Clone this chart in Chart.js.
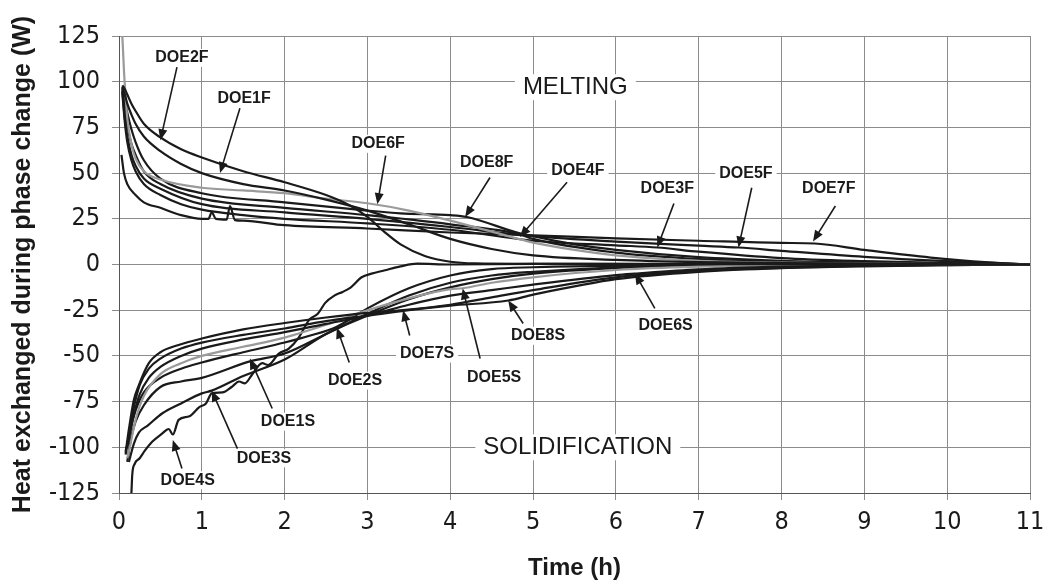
<!DOCTYPE html>
<html>
<head>
<meta charset="utf-8">
<script src="https://cdn.jsdelivr.net/npm/chart.js@4.4.1/dist/chart.umd.min.js"></script>
<style>
  html, body { margin: 0; padding: 0; background: #fff; }
  #wrap { width: 1046px; height: 586px; }
</style>
</head>
<body>
<div id="wrap"><canvas id="Canvas1" width="1046" height="586"></canvas></div>
<script>
// Melting curves (W vs h)
var tDOE2F = [0.04, 0.07, 0.1, 0.15, 0.2, 0.3, 0.5, 0.75, 1, 1.5, 2, 2.5, 2.8, 3, 3.2, 3.4, 3.7, 4, 4.3, 5, 6, 8, 11];
var qDOE2F = [98, 96, 93, 88, 84, 77, 69.5, 63, 58.5, 51, 45, 38, 32, 26, 18, 11, 4.5, 1.5, 0.6, 0.4, 0.3, 0.2, 0];
var tDOE1F = [0.04, 0.07, 0.1, 0.15, 0.2, 0.3, 0.5, 0.75, 1, 1.5, 2, 2.5, 3, 3.5, 4, 4.5, 5, 6, 7, 8, 9, 11];
var qDOE1F = [97, 93, 88, 82, 77, 70, 62, 55, 50, 44, 40.5, 35.5, 29.5, 22, 14, 8.5, 5, 2.5, 1.3, 0.8, 0.5, 0];
var tDOE6F = [0.04, 0.05, 0.06, 0.08, 0.1, 0.15, 0.2, 0.3, 0.5, 1, 1.5, 2, 2.5, 3, 3.5, 4, 4.5, 5, 5.5, 6, 7, 8, 9, 11];
var qDOE6F = [125, 116, 106, 92, 80, 66, 58, 51, 46.5, 42, 40.5, 39, 36, 33.5, 29.5, 24, 18, 12, 8, 5, 2, 1, 0.5, 0];
var tDOE8F = [0.04, 0.07, 0.1, 0.15, 0.2, 0.3, 0.5, 1, 2, 3, 3.4, 4, 4.2, 4.84, 5, 5.5, 6, 7, 8, 9, 11];
var qDOE8F = [97, 90, 83, 74, 67, 57, 47, 39, 34, 29.5, 28, 27, 26, 17, 15.5, 11, 8, 4, 2, 1, 0];
var tDOE4F = [0.04, 0.07, 0.1, 0.15, 0.2, 0.3, 0.5, 1, 2, 3, 4, 4.84, 5, 6, 7, 8, 9, 11];
var qDOE4F = [96, 86, 76, 66, 60, 51, 44, 36, 31, 27, 22, 16.5, 14, 6.5, 3, 1.5, 0.8, 0];
var tDOE5F = [0.04, 0.07, 0.1, 0.15, 0.2, 0.3, 0.5, 1, 2, 3, 4, 5, 6, 7, 7.48, 8, 9, 10, 11];
var qDOE5F = [95, 80, 70, 60, 54, 47, 41.5, 33, 28.5, 25, 20.5, 15.5, 12.5, 10.3, 9.3, 7.5, 4.2, 1.8, 0];
var tDOE3F = [0.04, 0.07, 0.1, 0.15, 0.2, 0.3, 0.5, 0.75, 1, 1.5, 2, 3, 4, 5, 6, 6.5, 7, 8, 9, 10, 11];
var qDOE3F = [94, 78, 67, 57, 51, 44, 38, 33, 30, 27, 25, 22.5, 19, 13, 10.5, 9.3, 7, 3.5, 1.8, 0.8, 0];
var tDOE7F = [0.03, 0.06, 0.1, 0.2, 0.3, 0.5, 0.75, 1, 1.08, 1.12, 1.17, 1.3, 1.34, 1.4, 1.5, 2, 3, 4, 5, 6, 7, 8, 8.4, 9, 9.8, 10.5, 11];
var qDOE7F = [60, 50, 44, 38, 34, 31, 27, 25, 25, 28.5, 25, 24.6, 32, 24.3, 24, 21.5, 19.7, 17.5, 16, 14.3, 13, 11.8, 11.5, 8, 3.8, 1.2, 0];

// Solidification curves
var tDOE7S = [0.08, 0.12, 0.18, 0.24, 0.36, 0.5, 0.72, 1, 1.5, 2, 2.5, 3, 3.43, 4, 4.5, 5, 6, 7, 8, 9, 10, 11];
var qDOE7S = [-103, -90, -74, -66, -54, -48, -44, -40.5, -35.5, -32, -29, -26.5, -25, -22, -18, -14, -7, -3.5, -1.8, -0.8, -0.3, 0];
var tDOE8S = [0.08, 0.12, 0.18, 0.25, 0.36, 0.5, 0.75, 1, 1.5, 2, 2.5, 3, 3.5, 4, 4.7, 5, 5.5, 6, 7, 8, 9, 10, 11];
var qDOE8S = [-104, -93, -78, -66, -57, -51.5, -46, -42.7, -38.5, -35, -31, -28, -25, -22.5, -19.7, -16.5, -12, -8, -4, -2, -1, -0.4, 0];
var tDOE6S = [0.08, 0.12, 0.18, 0.25, 0.36, 0.5, 0.75, 1, 1.5, 2, 2.5, 3, 3.5, 4, 4.5, 5, 6, 6.23, 7, 8, 9, 11];
var qDOE6S = [-102, -95, -82, -71, -62, -56, -50, -46, -41, -37, -32.5, -28, -22, -17, -14, -11, -5.8, -5, -2.7, -1.2, -0.5, 0];
var tDOE5S = [0.1, 0.14, 0.2, 0.3, 0.5, 0.75, 1, 1.5, 2, 2.5, 3, 3.5, 4, 4.15, 4.5, 5, 6, 7, 8, 11];
var qDOE5S = [-106, -98, -85, -72, -60, -54, -50, -45, -40, -33, -25, -18.5, -13.5, -13, -10, -7, -3, -1.2, -0.5, 0];
var tDOE2S = [0.1, 0.14, 0.2, 0.3, 0.5, 0.75, 1, 1.5, 2, 2.3, 2.63, 3, 3.5, 4, 4.5, 5, 6, 7, 11];
var qDOE2S = [-100, -90, -80, -70, -62, -57, -53.6, -48, -42.7, -39, -34, -24, -13, -6, -2.5, -1.5, -0.7, -0.3, 0];
var tDOE1S = [0.1, 0.14, 0.2, 0.3, 0.5, 0.75, 1, 1.58, 2, 2.5, 3, 3.5, 4, 4.5, 5, 6, 7, 8, 11];
var qDOE1S = [-108, -96, -86, -77, -67, -64, -62, -53, -48.7, -38, -27, -17, -10, -6, -4, -1.5, -0.6, -0.3, 0];
var tDOE3S = [0.12, 0.18, 0.24, 0.35, 0.52, 0.75, 1, 1.12, 1.5, 2, 2.5, 3, 3.5, 4, 4.5, 5, 6, 7, 8, 11];
var qDOE3S = [-108, -98, -92, -88, -81.5, -76, -70.5, -69, -61, -52, -38, -28, -19, -12.5, -8, -5, -2, -0.8, -0.3, 0];
var tDOE4S = [0.15, 0.16, 0.19, 0.25, 0.31, 0.4, 0.52, 0.6, 0.65, 0.72, 0.85, 0.97, 1.05, 1.12, 1.25, 1.36, 1.45, 1.52, 1.61, 1.73, 1.8, 1.93, 2.05, 2.17, 2.3, 2.4, 2.49, 2.6, 2.7, 2.8, 2.93, 3.05, 3.2, 3.4, 3.6, 4, 5, 11];
var qDOE4S = [-125, -115, -109, -106, -102, -97, -92.5, -90, -93, -85, -83, -78, -76, -70.5, -70, -67, -64, -65, -60, -54, -55, -48.7, -46, -40, -30, -27, -21, -17, -15, -12.5, -7, -5, -3.3, -1, 0.5, 0, 0.3, 0];

var yTicks = [-125, -100, -75, -50, -25, 0, 25, 50, 75, 100, 125];
var xTicks = [0, 1, 2, 3, 4, 5, 6, 7, 8, 9, 10, 11];

// callouts: label centre, arrow start, arrow tip (data coords)
var callouts = [
    {text: 'DOE2F', at: [0.76, 113], from: [0.7, 108], to: [0.5, 68]},
    {text: 'DOE1F', at: [1.51, 91], from: [1.46, 85.5], to: [1.22, 50]},
    {text: 'DOE6F', at: [3.13, 66], from: [3.22, 59.6], to: [3.12, 33]},
    {text: 'DOE8F', at: [4.44, 56], from: [4.48, 47.6], to: [4.18, 26]},
    {text: 'DOE4F', at: [5.54, 51.5], from: [5.41, 45], to: [4.84, 15]},
    {text: 'DOE3F', at: [6.62, 41.5], from: [6.7, 33.4], to: [6.5, 9.3]},
    {text: 'DOE5F', at: [7.57, 50], from: [7.64, 42], to: [7.48, 9.3]},
    {text: 'DOE7F', at: [8.57, 41.5], from: [8.65, 32], to: [8.38, 12.6]},
    {text: 'DOE7S', at: [3.72, -48.7], from: [3.51, -38.8], to: [3.43, -25]},
    {text: 'DOE2S', at: [2.85, -63.5], from: [2.78, -53.6], to: [2.63, -34.5]},
    {text: 'DOE1S', at: [2.04, -86], from: [1.85, -78.8], to: [1.58, -51.4]},
    {text: 'DOE3S', at: [1.75, -106], from: [1.43, -100.7], to: [1.12, -69]},
    {text: 'DOE4S', at: [0.83, -118], from: [0.76, -111.6], to: [0.65, -96]},
    {text: 'DOE8S', at: [5.06, -39], from: [4.88, -32.3], to: [4.7, -19.7]},
    {text: 'DOE5S', at: [4.53, -62], from: [4.36, -51.4], to: [4.15, -13.1]},
    {text: 'DOE6S', at: [6.6, -33.4], from: [6.47, -24], to: [6.23, -4.9]}
];
var phaseLabels = [
    {text: 'MELTING', at: [5.51, 97]},
    {text: 'SOLIDIFICATION', at: [5.54, -100]}
];

function series(label, t, q, color) {
    return {
        label: label,
        data: t.map(function (x, i) { return {x: x, y: q[i]}; }),
        borderColor: color,
        borderWidth: 2.2,
        pointRadius: 0,
        fill: false,
        cubicInterpolationMode: 'monotone'
    };
}

var dark = '#1a1a1a';
var grey = '#9a9a9a';

var calloutPlugin = {
    id: 'callouts',
    afterDatasetsDraw: function (chart) {
        var ctx = chart.ctx;
        var xs = chart.scales.x, ys = chart.scales.y;
        ctx.save();
        // arrows
        callouts.forEach(function (c) {
            var x1 = xs.getPixelForValue(c.from[0]), y1 = ys.getPixelForValue(c.from[1]);
            var x2 = xs.getPixelForValue(c.to[0]), y2 = ys.getPixelForValue(c.to[1]);
            var ang = Math.atan2(y2 - y1, x2 - x1);
            ctx.strokeStyle = '#1a1a1a';
            ctx.fillStyle = '#1a1a1a';
            ctx.lineWidth = 1.6;
            ctx.beginPath();
            ctx.moveTo(x1, y1);
            ctx.lineTo(x2 - 6 * Math.cos(ang), y2 - 6 * Math.sin(ang));
            ctx.stroke();
            ctx.beginPath();
            ctx.moveTo(x2, y2);
            ctx.lineTo(x2 - 11 * Math.cos(ang) + 4.5 * Math.sin(ang), y2 - 11 * Math.sin(ang) - 4.5 * Math.cos(ang));
            ctx.lineTo(x2 - 11 * Math.cos(ang) - 4.5 * Math.sin(ang), y2 - 11 * Math.sin(ang) + 4.5 * Math.cos(ang));
            ctx.closePath();
            ctx.fill();
        });
        // labels with white box over grid
        ctx.textAlign = 'center';
        ctx.textBaseline = 'middle';
        ctx.font = 'bold 16px "Liberation Sans", Arial, sans-serif';
        callouts.forEach(function (c) {
            var x = xs.getPixelForValue(c.at[0]), y = ys.getPixelForValue(c.at[1]);
            var w = ctx.measureText(c.text).width;
            ctx.fillStyle = '#fff';
            ctx.fillRect(x - w / 2 - 4, y - 9, w + 8, 18);
            ctx.fillStyle = '#1a1a1a';
            ctx.fillText(c.text, x, y);
        });
        ctx.font = '24px "Liberation Sans", Arial, sans-serif';
        phaseLabels.forEach(function (p) {
            var x = xs.getPixelForValue(p.at[0]), y = ys.getPixelForValue(p.at[1]);
            var w = ctx.measureText(p.text).width;
            ctx.fillStyle = '#fff';
            ctx.fillRect(x - w / 2 - 8, y - 13, w + 16, 26);
            ctx.fillStyle = '#1a1a1a';
            ctx.fillText(p.text, x, y);
        });
        ctx.restore();
    }
};

var GKChart = document.getElementById('Canvas1').getContext('2d');
var myChart = new Chart(GKChart, {
    type: 'line',
    data: {
        datasets: [
            series('DOE2F', tDOE2F, qDOE2F, dark),
            series('DOE1F', tDOE1F, qDOE1F, dark),
            series('DOE6F', tDOE6F, qDOE6F, grey),
            series('DOE8F', tDOE8F, qDOE8F, dark),
            series('DOE4F', tDOE4F, qDOE4F, dark),
            series('DOE5F', tDOE5F, qDOE5F, dark),
            series('DOE3F', tDOE3F, qDOE3F, dark),
            series('DOE7F', tDOE7F, qDOE7F, dark),
            series('DOE7S', tDOE7S, qDOE7S, dark),
            series('DOE8S', tDOE8S, qDOE8S, dark),
            series('DOE6S', tDOE6S, qDOE6S, dark),
            series('DOE5S', tDOE5S, qDOE5S, grey),
            series('DOE2S', tDOE2S, qDOE2S, dark),
            series('DOE1S', tDOE1S, qDOE1S, dark),
            series('DOE3S', tDOE3S, qDOE3S, dark),
            series('DOE4S', tDOE4S, qDOE4S, dark)
        ]
    },
    options: {
        responsive: false,
        animation: false,
        layout: {padding: {top: 36, right: 16, left: 0, bottom: 0}},
        plugins: {legend: {display: false}, tooltip: {enabled: false}},
        scales: {
            x: {
                type: 'linear',
                min: 0,
                max: 11,
                afterBuildTicks: function (s) { s.ticks = xTicks.map(function (v) { return {value: v}; }); },
                afterFit: function (s) { s.height = 93; s.paddingLeft = 0; s.paddingRight = 0; },
                ticks: {
                    color: '#1a1a1a',
                    padding: 7,
                    maxRotation: 0,
                    font: {family: '"Liberation Sans Narrow", "DejaVu Sans Condensed", Arial, sans-serif', size: 25}
                },
                grid: {color: '#8c8c8c', lineWidth: 1, tickLength: 7},
                border: {color: '#555'},
                title: {
                    display: true,
                    text: 'Time (h)',
                    color: '#1a1a1a',
                    padding: {top: 0, bottom: 3},
                    font: {family: '"Liberation Sans", Arial, sans-serif', size: 24, weight: 'bold'}
                }
            },
            y: {
                min: -125,
                max: 125,
                afterBuildTicks: function (s) { s.ticks = yTicks.map(function (v) { return {value: v}; }); },
                afterFit: function (s) { s.width = 119; s.paddingTop = 0; s.paddingBottom = 0; },
                ticks: {
                    color: '#1a1a1a',
                    padding: 12,
                    font: {family: '"Liberation Sans Narrow", "DejaVu Sans Condensed", Arial, sans-serif', size: 25}
                },
                grid: {color: '#8c8c8c', lineWidth: 1, tickLength: 7},
                border: {color: '#555'},
                title: {
                    display: true,
                    text: 'Heat exchanged during phase change (W)',
                    color: '#1a1a1a',
                    padding: {top: 8, bottom: 0},
                    font: {family: '"Liberation Sans", Arial, sans-serif', size: 25, weight: 'bold'}
                }
            }
        }
    },
    plugins: [calloutPlugin]
});
</script>
</body>
</html>
